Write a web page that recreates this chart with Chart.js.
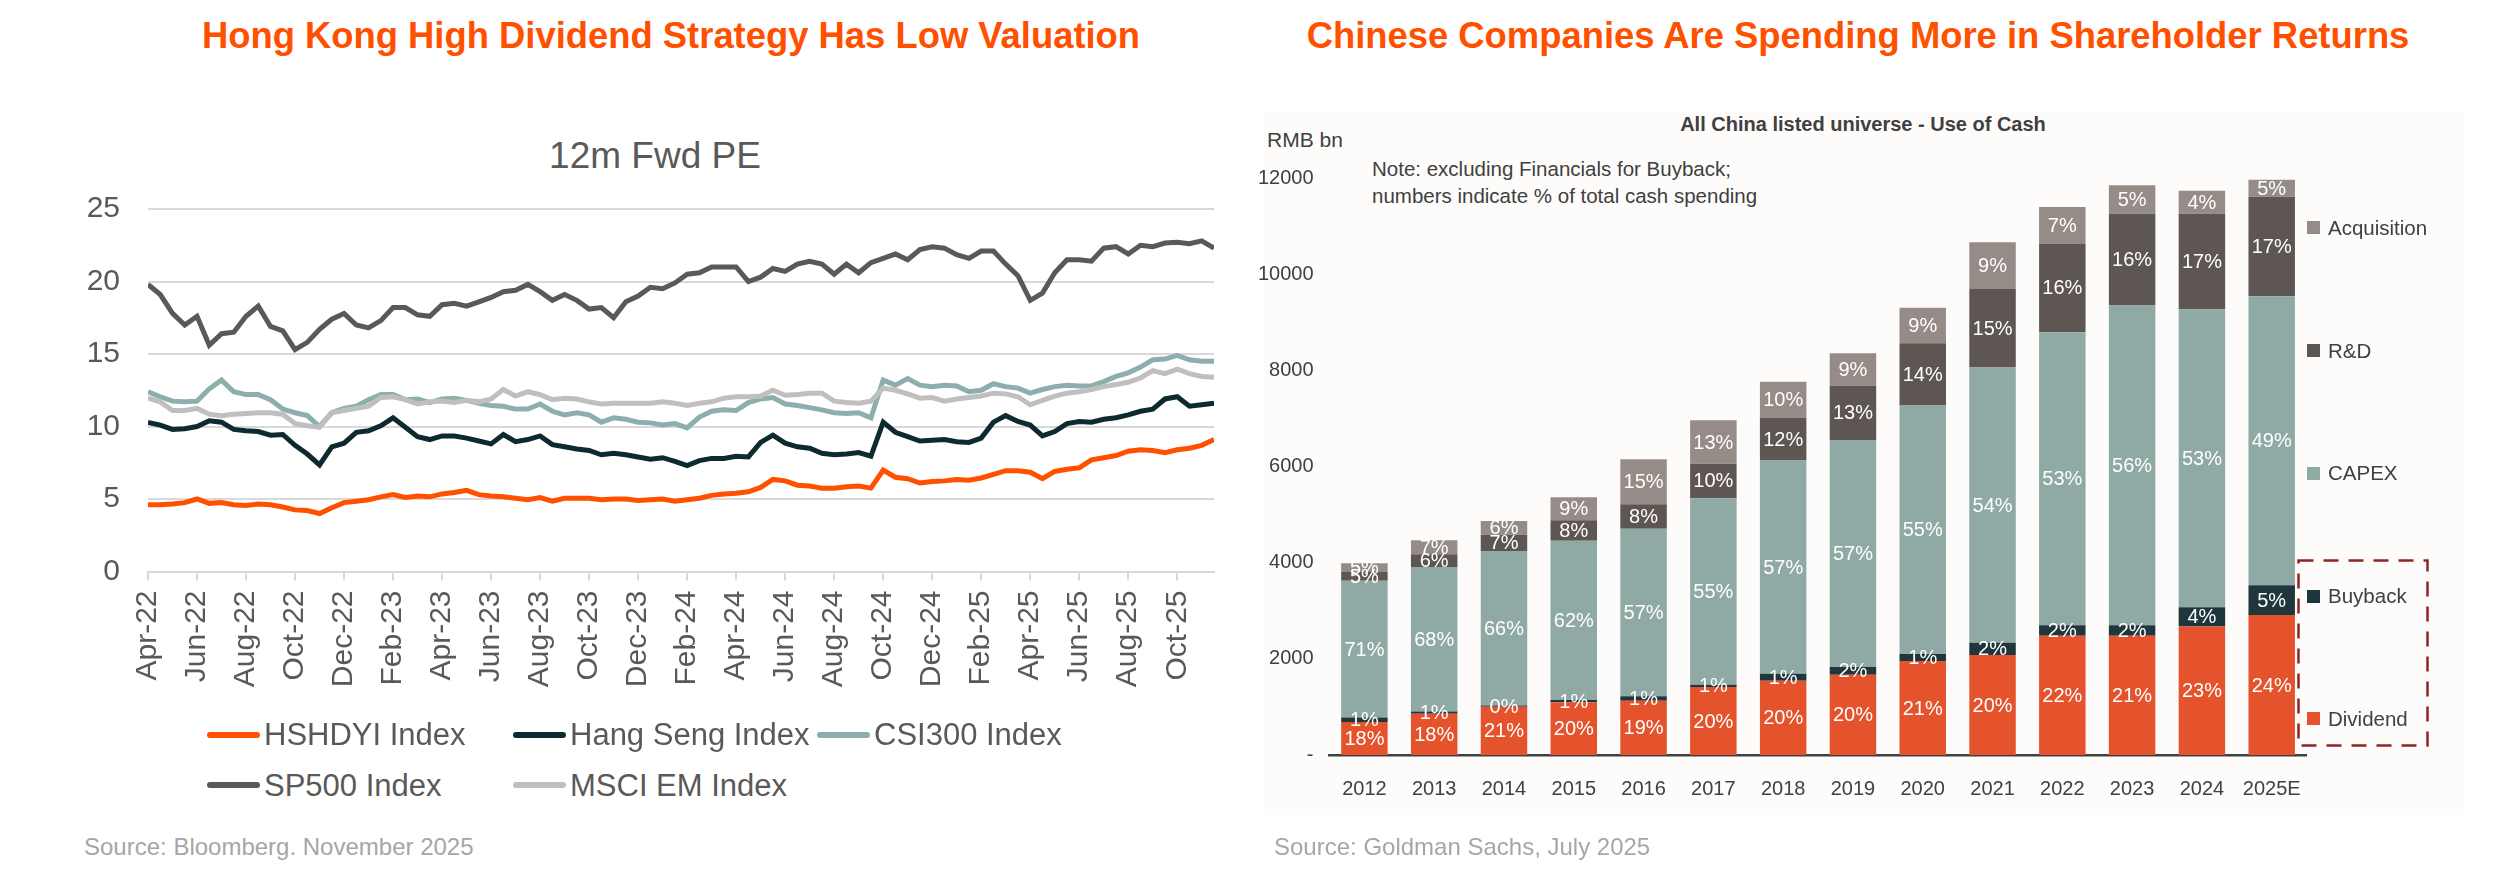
<!DOCTYPE html>
<html>
<head>
<meta charset="utf-8">
<script src="https://cdn.jsdelivr.net/npm/chart.js@4.4.0/dist/chart.umd.min.js"></script>
<style>
  body { margin: 0; width: 2500px; height: 875px; background: #fff; position: relative; overflow: hidden;
         font-family: "Liberation Sans", Arial, sans-serif; }
  .t { position: absolute; white-space: nowrap; line-height: 1; }
  .title { font-weight: bold; font-size: 36.4px; color: #FF5000; transform: translateX(-50%); }
  .src { font-size: 24px; color: #A6A6A6; }
  .lg { font-size: 31px; color: #595959; }
  .sw { position: absolute; height: 6px; width: 53px; border-radius: 3px; }
  .rlg { font-size: 20.5px; color: #404040; }
  .rsw { position: absolute; width: 13px; height: 13px; }
  canvas { position: absolute; }
</style>
</head>
<body>

<div class="t title" style="left:671px; top:17.5px;">Hong Kong High Dividend Strategy Has Low Valuation</div>
<div class="t title" style="left:1858px; top:17.5px;">Chinese Companies Are Spending More in Shareholder Returns</div>

<div class="t" style="left:655px; top:137px; font-size:37px; color:#595959; transform:translateX(-50%);">12m Fwd PE</div>
<canvas id="pe" width="1250" height="720" style="left:0; top:0; width:1250px; height:720px;"></canvas>
<div id="peLegend"></div>
<div class="t src" style="left:84px; top:835px;">Source: Bloomberg. November 2025</div>

<div style="position:absolute; left:1263px; top:112px; width:1202px; height:703px; background:#FDFCFB;"></div>
<div class="t" style="left:1863px; top:114px; font-size:20px; font-weight:bold; color:#404040; transform:translateX(-50%);">All China listed universe - Use of Cash</div>
<div class="t" style="left:1267px; top:129px; font-size:21px; color:#404040;">RMB bn</div>
<div class="t" style="left:1372px; top:159px; font-size:20.5px; color:#404040;">Note: excluding Financials for Buyback;</div>
<div class="t" style="left:1372px; top:185.5px; font-size:20.5px; color:#404040;">numbers indicate % of total cash spending</div>
<canvas id="cash" width="1250" height="760" style="left:1250px; top:90px; width:1250px; height:760px;"></canvas>
<div id="cashLegend"></div>
<svg style="position:absolute; left:2296px; top:558px;" width="136" height="192">
  <rect x="2.5" y="2.5" width="129" height="185" fill="none" stroke="#8E2424" stroke-width="2.5" stroke-dasharray="15 10"/>
</svg>
<div class="t src" style="left:1274px; top:835px;">Source: Goldman Sachs, July 2025</div>

<script>
// ---- left chart: 12m forward PE, semi-monthly readings from Apr-22 ----
const tickLabels = ["Apr-22","Jun-22","Aug-22","Oct-22","Dec-22","Feb-23","Apr-23","Jun-23","Aug-23","Oct-23","Dec-23",
  "Feb-24","Apr-24","Jun-24","Aug-24","Oct-24","Dec-24","Feb-25","Apr-25","Jun-25","Aug-25","Oct-25"];

const hshdyi = [4.6,4.6,4.65,4.75,5.0,4.7,4.75,4.6,4.55,4.65,
  4.6,4.45,4.25,4.2,4.0,4.4,4.75,4.85,4.95,5.15,
  5.3,5.1,5.2,5.15,5.35,5.45,5.6,5.3,5.2,5.15,
  5.05,4.95,5.1,4.85,5.05,5.05,5.05,4.95,5.0,5.0,
  4.9,4.95,5.0,4.85,4.95,5.05,5.25,5.35,5.4,5.5,
  5.8,6.35,6.25,5.95,5.9,5.75,5.75,5.85,5.9,5.75,
  7.0,6.5,6.4,6.1,6.2,6.25,6.35,6.3,6.45,6.7,
  6.95,6.95,6.85,6.4,6.9,7.05,7.15,7.7,7.85,8.0,
  8.3,8.4,8.35,8.2,8.4,8.5,8.7,9.1];

const hangSeng = [10.28,10.1,9.8,9.85,10.0,10.4,10.3,9.8,9.7,9.65,
  9.4,9.45,8.7,8.1,7.35,8.6,8.85,9.6,9.7,10.05,
  10.6,9.95,9.3,9.1,9.35,9.35,9.2,9.0,8.8,9.45,
  8.95,9.1,9.35,8.75,8.6,8.45,8.35,8.05,8.15,8.05,
  7.9,7.75,7.85,7.6,7.3,7.65,7.8,7.8,7.95,7.9,
  8.9,9.4,8.85,8.6,8.5,8.15,8.05,8.1,8.2,7.95,
  10.3,9.6,9.3,9.0,9.05,9.1,8.95,8.9,9.2,10.3,
  10.75,10.35,10.1,9.35,9.65,10.2,10.35,10.3,10.5,10.6,
  10.8,11.05,11.2,11.9,12.05,11.4,11.5,11.6];

const csi300 = [12.4,12.05,11.75,11.7,11.75,12.6,13.2,12.4,12.2,12.2,
  11.85,11.2,10.95,10.75,10.0,10.95,11.25,11.4,11.85,12.2,
  12.2,11.85,11.9,11.65,11.9,11.95,11.8,11.6,11.45,11.4,
  11.2,11.2,11.55,11.05,10.8,10.95,10.8,10.3,10.6,10.5,
  10.3,10.25,10.1,10.2,9.9,10.65,11.05,11.15,11.1,11.65,
  11.9,12.0,11.55,11.45,11.3,11.15,10.95,10.9,10.95,10.6,
  13.2,12.85,13.3,12.85,12.75,12.85,12.8,12.4,12.5,12.95,
  12.75,12.65,12.3,12.55,12.75,12.85,12.8,12.8,13.1,13.45,
  13.7,14.1,14.6,14.65,14.9,14.6,14.5,14.5];

const sp500 = [19.8,19.1,17.8,17.0,17.6,15.6,16.4,16.5,17.6,18.3,
  16.9,16.6,15.3,15.8,16.7,17.4,17.8,17.0,16.8,17.3,
  18.2,18.2,17.7,17.6,18.4,18.5,18.3,18.6,18.9,19.3,
  19.4,19.8,19.3,18.7,19.1,18.7,18.1,18.2,17.5,18.6,
  19.0,19.6,19.5,19.9,20.5,20.6,21.0,21.0,21.0,20.0,
  20.3,20.9,20.7,21.2,21.4,21.2,20.5,21.2,20.6,21.3,
  21.6,21.9,21.5,22.2,22.4,22.3,21.85,21.6,22.1,22.1,
  21.2,20.4,18.7,19.2,20.6,21.5,21.5,21.4,22.3,22.4,
  21.9,22.5,22.4,22.65,22.7,22.6,22.8,22.3];

const msciEm = [11.95,11.7,11.1,11.1,11.25,10.85,10.75,10.85,10.9,10.95,
  10.95,10.85,10.2,10.05,9.95,10.95,11.1,11.25,11.4,12.0,
  12.05,11.85,11.55,11.7,11.75,11.65,11.8,11.7,11.9,12.55,
  12.1,12.4,12.2,11.85,11.95,11.9,11.7,11.55,11.6,11.6,
  11.6,11.6,11.7,11.6,11.45,11.6,11.7,11.95,12.05,12.05,
  12.1,12.5,12.15,12.2,12.3,12.3,11.75,11.65,11.6,11.75,
  12.65,12.5,12.25,11.95,12.0,11.75,11.9,12.0,12.1,12.3,
  12.25,12.05,11.5,11.8,12.1,12.3,12.4,12.55,12.75,12.9,
  13.05,13.35,13.85,13.65,13.95,13.65,13.45,13.4];

const peNames = ["HSHDYI Index", "Hang Seng Index", "CSI300 Index", "SP500 Index", "MSCI EM Index"];
const peColors = ["#FF5000", "#0E2A31", "#8CAFAD", "#595959", "#BFBFBF"];

// ---- right chart: use of cash, RMB bn ----
const years = ["2012","2013","2014","2015","2016","2017","2018","2019","2020","2021","2022","2023","2024","2025E"];
const dividend    = [687, 859, 1002, 1098, 1127, 1413, 1547, 1671, 1957, 2081, 2482, 2482, 2673, 2912];
const buyback     = [96, 48, 29, 48, 95, 48, 143, 162, 143, 258, 220, 220, 401, 620];
const capex       = [2845, 3007, 3217, 3312, 3485, 3885, 4439, 4726, 5175, 5728, 6100, 6654, 6206, 6015];
const rnd         = [191, 267, 335, 430, 515, 716, 888, 1126, 1298, 1642, 1843, 1909, 1985, 2071];
const acquisition = [172, 287, 286, 477, 936, 907, 754, 678, 735, 964, 764, 592, 478, 354];

const dividendPct    = [18, 18, 21, 20, 19, 20, 20, 20, 21, 20, 22, 21, 23, 24];
const buybackPct     = [1, 1, 0, 1, 1, 1, 1, 2, 1, 2, 2, 2, 4, 5];
const capexPct       = [71, 68, 66, 62, 57, 55, 57, 57, 55, 54, 53, 56, 53, 49];
const rndPct         = [5, 6, 7, 8, 8, 10, 12, 13, 14, 15, 16, 16, 17, 17];
const acquisitionPct = [5, 7, 6, 9, 15, 13, 10, 9, 9, 9, 7, 5, 4, 5];

const cashNames  = ["Dividend", "Buyback", "CAPEX", "R&D", "Acquisition"];
const cashColors = ["#E4532B", "#1E363C", "#8FA9A4", "#5E5653", "#958C88"];

const FONT = '"Liberation Sans", Arial, sans-serif';

// x = months since Apr-22, one reading every half month
const months = hshdyi.map((_, i) => i / 2);
const peSeries = [hshdyi, hangSeng, csi300, sp500, msciEm];

new Chart(document.getElementById("pe"), {
  type: "line",
  data: {
    labels: months,
    datasets: peSeries.map((s, i) => ({
      label: peNames[i],
      data: s,
      borderColor: peColors[i],
      borderWidth: 5,
      pointRadius: 0,
      tension: 0,
      order: 5 - i   // later series drawn on top, like the original
    }))
  },
  options: {
    responsive: false,
    animation: false,
    devicePixelRatio: 1,
    layout: { padding: { top: 209, right: 36, left: 0, bottom: 0 } },
    plugins: { legend: { display: false }, tooltip: { enabled: false } },
    scales: {
      x: {
        type: "linear",
        min: 0,
        max: 43.5,
        afterFit: s => { s.height = 148.5; },
        border: { color: "#D9D9D9", width: 2 },
        grid: { drawOnChartArea: false, tickLength: 9, color: "#D9D9D9", lineWidth: 2 },
        ticks: {
          stepSize: 2,
          includeBounds: false,
          autoSkip: false,
          minRotation: 90,
          maxRotation: 90,
          padding: 10,
          color: "#595959",
          font: { family: FONT, size: 30 },
          callback: v => tickLabels[v / 2] || ""
        }
      },
      y: {
        min: 0,
        max: 25,
        afterFit: s => { s.width = 148; },
        border: { display: false },
        grid: { color: "#D9D9D9", lineWidth: 2, drawTicks: false },
        ticks: { stepSize: 5, padding: 28, color: "#595959", font: { family: FONT, size: 30 } }
      }
    }
  }
});

// legend laid out in a grid like the original
const peLegend = document.getElementById("peLegend");
peNames.forEach((name, i) => {
  const col = i % 3, row = Math.floor(i / 3);
  const x = [207, 513, 817][col], cy = [734.5, 785][row];
  peLegend.insertAdjacentHTML("beforeend",
    `<div class="sw" style="left:${x}px; top:${cy - 3}px; background:${peColors[i]}"></div>` +
    `<div class="t lg" style="left:${x + 57}px; top:${cy - 15.1}px">${name}</div>`);
});

// white % labels in the middle of each segment
const segmentLabels = {
  id: "segmentLabels",
  afterDatasetsDraw(chart) {
    const ctx = chart.ctx;
    ctx.save();
    ctx.font = "20px " + FONT;
    ctx.fillStyle = "#ffffff";
    ctx.textAlign = "center";
    ctx.textBaseline = "middle";
    chart.data.datasets.forEach((ds, i) => {
      chart.getDatasetMeta(i).data.forEach((bar, j) => {
        ctx.fillText(ds.pct[j] + "%", bar.x, (bar.y + bar.base) / 2 + 1);
      });
    });
    ctx.restore();
  }
};

const cashSeries = [dividend, buyback, capex, rnd, acquisition];
const cashPcts = [dividendPct, buybackPct, capexPct, rndPct, acquisitionPct];

new Chart(document.getElementById("cash"), {
  type: "bar",
  data: {
    labels: years,
    datasets: cashSeries.map((s, i) => ({
      label: cashNames[i],
      data: s,
      pct: cashPcts[i],
      backgroundColor: cashColors[i],
      borderWidth: 0,
      barPercentage: 0.666,
      categoryPercentage: 1
    }))
  },
  plugins: [segmentLabels],
  options: {
    responsive: false,
    animation: false,
    devicePixelRatio: 1,
    layout: { padding: { top: 88.5, right: 193.4, left: 0, bottom: 0 } },
    plugins: { legend: { display: false }, tooltip: { enabled: false } },
    scales: {
      x: {
        stacked: true,
        afterFit: s => { s.height = 95; },
        border: { color: "#404040", width: 2.5 },
        grid: { drawOnChartArea: false, drawTicks: false },
        ticks: { padding: 22, color: "#404040", font: { family: FONT, size: 20 } }
      },
      y: {
        stacked: true,
        min: 0,
        max: 12000,
        afterFit: s => { s.width = 79.5; },
        border: { display: false },
        grid: { display: false },
        ticks: {
          stepSize: 2000,
          padding: 8,
          color: "#404040",
          font: { family: FONT, size: 20 },
          callback: v => v === 0 ? "-" : String(v)
        }
      }
    }
  }
});

// right-hand legend, top to bottom
const cashLegend = document.getElementById("cashLegend");
const legendY = [718.5, 596, 473, 350.5, 227.6];
cashNames.forEach((name, i) => {
  const cy = legendY[i];
  cashLegend.insertAdjacentHTML("beforeend",
    `<div class="rsw" style="left:2307px; top:${cy - 6.5}px; background:${cashColors[i]}"></div>` +
    `<div class="t rlg" style="left:2328px; top:${cy - 10}px">${name}</div>`);
});
</script>
</body>
</html>
